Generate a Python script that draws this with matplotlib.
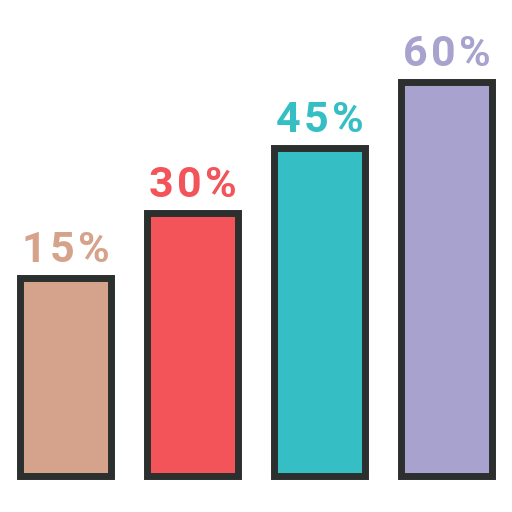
import matplotlib
matplotlib.use("Agg")
import matplotlib.pyplot as plt

labels = ["15%", "30%", "45%", "60%"]
heights = [45.6, 60.6, 75.6, 90.8]
fills = ["#D5A38B", "#F25459", "#35BFC4", "#A7A3CE"]
EDGE = "#2B302E"

FONT = dict(fontsize=31, fontfamily="Roboto", fontweight="bold")
TRACK = 3.5  # extra px between letters

fig = plt.figure(figsize=(5.12, 5.12), dpi=100)
ax = fig.add_axes([0, 0, 1, 1])
x = range(len(heights))
ax.bar(x, heights, width=0.724, color=fills, edgecolor=EDGE, linewidth=5.0)
ax.set_xlim(-0.516, 3.516)
ax.set_ylim(-8.3, 109.8)
ax.axis("off")

# letter-spaced labels: measure each glyph then lay them out by hand
renderer = fig.canvas.get_renderer()
for xi, h, lab, c in zip(x, heights, labels, fills):
    widths = []
    for ch in lab:
        t = fig.text(0, 0, ch, **FONT)
        widths.append(t.get_window_extent(renderer).width)
        t.remove()
    total = sum(widths) + TRACK * (len(lab) - 1)
    pos = -total / 2
    for ch, w in zip(lab, widths):
        ax.annotate(ch, (xi, h), xytext=(pos * 0.72, 11.9), textcoords="offset points",
                    ha="left", va="baseline", color=c, **FONT)
        pos += w + TRACK

fig.savefig("out.png", dpi=100)
